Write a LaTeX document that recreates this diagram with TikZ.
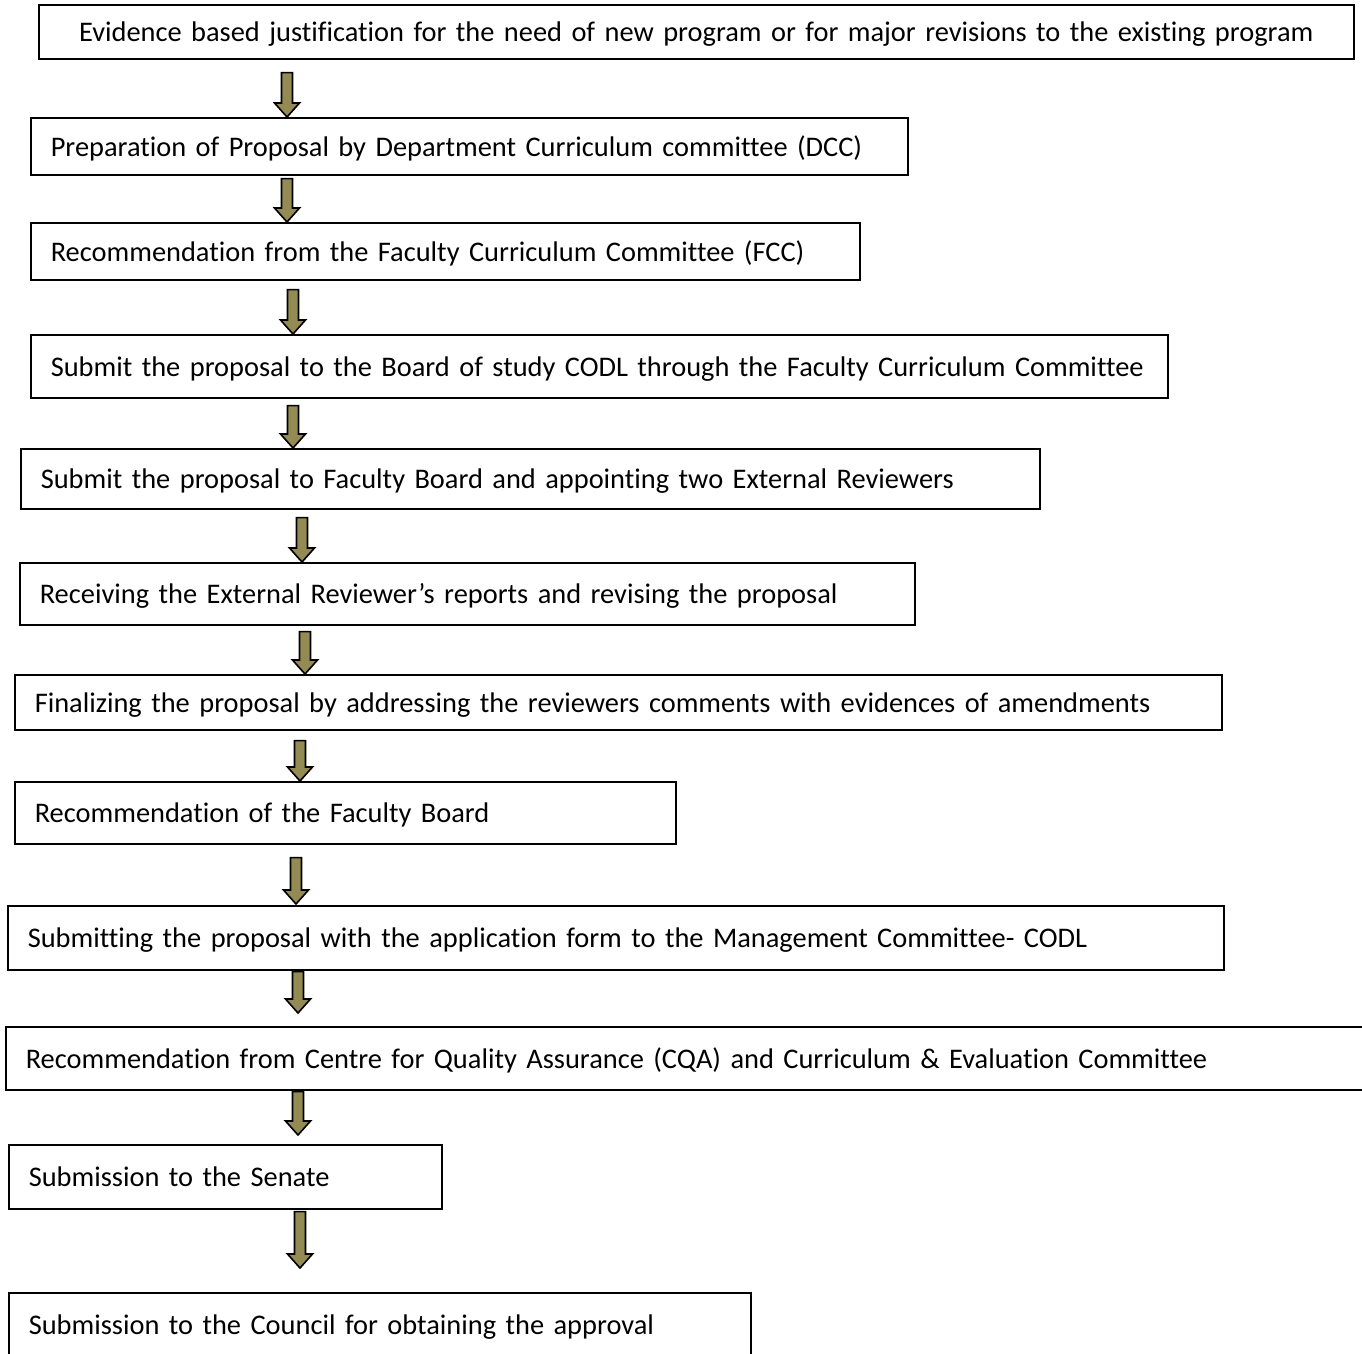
\documentclass[tikz,border=0pt]{standalone}
\usepackage{fontspec}
\setmainfont{Carlito}[Ligatures=NoCommon]
\usetikzlibrary{calc}
\definecolor{arrowtan}{RGB}{148,138,84}
\tikzset{
    stage/.style={rectangle,draw,line width=1.6pt,anchor=north west,inner xsep=20pt,inner ysep=0pt,
        align=left,font=\fontsize{28.4}{34}\selectfont,text height=24pt,text depth=4pt},
    flow/.style={draw=black,line width=1.6pt,fill=arrowtan,line join=miter}
}
% block arrow: from node, to node, x, gap below tail node, gap above head node
\newcommand{\flowarrow}[5]{%
    \coordinate (fx) at (#3,0);
    \coordinate (ft) at ($(#1.south -| fx)+(0,#4)$);
    \coordinate (fh) at ($(#2.north -| fx)+(0,-#5)$);
    \draw[flow] ($(ft)+(-5.5,0)$) -- ($(fh)+(-5.5,-14)$) -- ($(fh)+(-12.5,-14)$) -- (fh)
        -- ($(fh)+(12.5,-14)$) -- ($(fh)+(5.5,-14)$) -- ($(ft)+(5.5,0)$) -- cycle;
}
\begin{document}
\begin{tikzpicture}[x=1pt,y=-1pt]
    \useasboundingbox (0,0) rectangle (1362,1353);

    % steps
    \node[stage,align=center,text width=1275pt,minimum height=54pt] (s1) at (38,4)
        {Evidence based justification for the need of new program or for major revisions to the existing program};
    \node[stage,text width=837pt,minimum height=57pt] (s2) at (30,117)
        {Preparation of Proposal by Department Curriculum committee (DCC)};
    \node[stage,text width=789pt,minimum height=57pt] (s3) at (30,222)
        {Recommendation from the Faculty Curriculum Committee (FCC)};
    \node[stage,text width=1097pt,minimum height=63pt] (s4) at (30,334)
        {\mbox{Submit the proposal to the Board of study CODL through the Faculty Curriculum Committee}};
    \node[stage,text width=979pt,minimum height=60pt] (s5) at (20,448)
        {Submit the proposal to Faculty Board and appointing two External Reviewers};
    \node[stage,text width=855pt,minimum height=62pt] (s6) at (19,562)
        {Receiving the External Reviewer’s reports and revising the proposal};
    \node[stage,text width=1167pt,minimum height=55pt] (s7) at (14,674)
        {Finalizing the proposal by addressing the reviewers comments with evidences of amendments};
    \node[stage,text width=621pt,minimum height=62pt] (s8) at (14,781)
        {Recommendation of the Faculty Board};
    \node[stage,text width=1176pt,minimum height=64pt] (s9) at (7,905)
        {Submitting the proposal with the application form to the Management Committee- CODL};
    \node[stage,text width=1330pt,minimum height=63pt] (s10) at (5,1026)
        {Recommendation from Centre for Quality Assurance (CQA) and Curriculum \& Evaluation Committee};
    \node[stage,text width=393pt,minimum height=64pt] (s11) at (8,1144)
        {Submission to the Senate};
    \node[stage,text width=702pt,minimum height=64pt] (s12) at (8,1292)
        {Submission to the Council for obtaining the approval};

    % arrows
    \flowarrow{s1}{s2}{287}{13}{0}
    \flowarrow{s2}{s3}{287}{3}{0}
    \flowarrow{s3}{s4}{293}{9}{0}
    \flowarrow{s4}{s5}{293}{7}{0}
    \flowarrow{s5}{s6}{302}{8}{0}
    \flowarrow{s6}{s7}{305}{6}{0}
    \flowarrow{s7}{s8}{300}{10}{0}
    \flowarrow{s8}{s9}{296}{13}{1}
    \flowarrow{s9}{s10}{298}{1}{13}
    \flowarrow{s10}{s11}{298}{1}{9}
    \flowarrow{s11}{s12}{300}{2}{24}
\end{tikzpicture}
\end{document}
